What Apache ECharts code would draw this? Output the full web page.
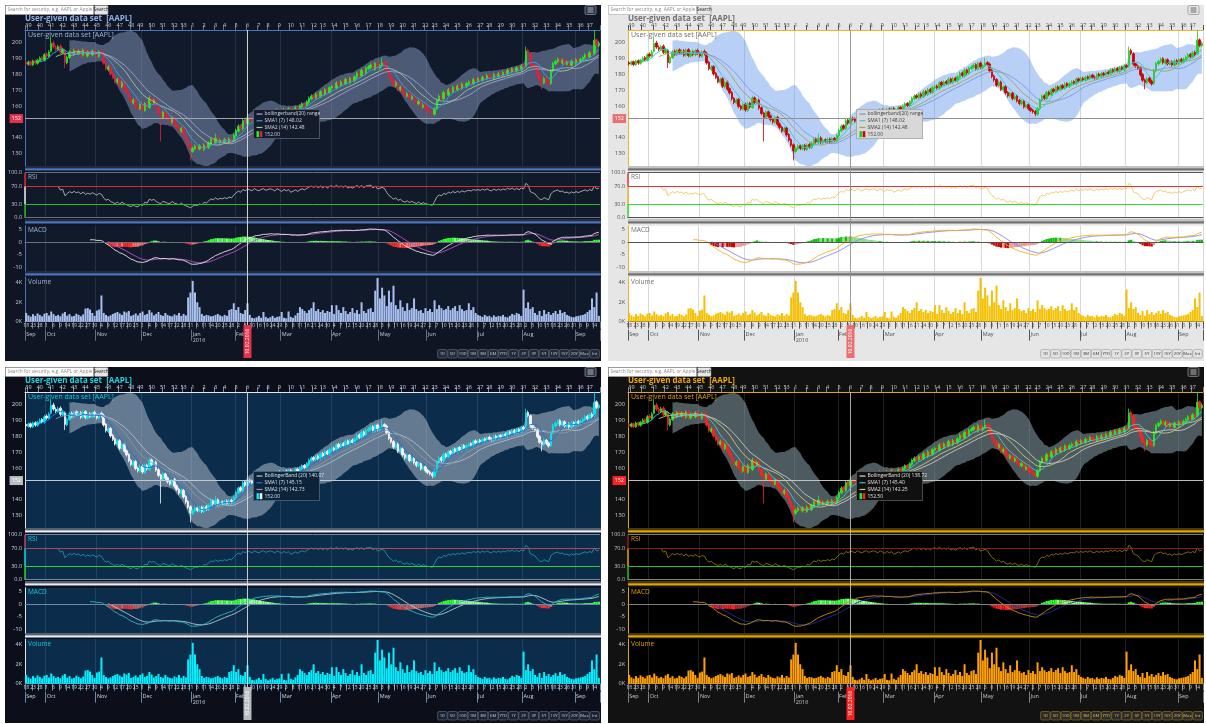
<!DOCTYPE html>
<html><head><meta charset="utf-8">
<script src="https://cdn.jsdelivr.net/npm/echarts@6/dist/echarts.min.js"></script>
<style>
html,body{margin:0;padding:0;background:#ffffff;width:1206px;height:724px;overflow:hidden}
.p{position:absolute}
</style></head><body>
<div id="c0" class="p" style="left:5px;top:5px;width:596px;height:356px"></div>
<div id="c1" class="p" style="left:608px;top:5px;width:596px;height:356px"></div>
<div id="c2" class="p" style="left:5px;top:367px;width:596px;height:356px"></div>
<div id="c3" class="p" style="left:608px;top:367px;width:596px;height:356px"></div>
<script>
// ---------------- data ----------------
const startDate = '2015-09-18', endDate = '2016-09-16';
const holidays = ['2015-11-26','2015-12-25','2016-01-01','2016-01-18','2016-02-15','2016-03-25','2016-05-30','2016-07-04','2016-09-05'];
const opens = [187.4,186.3,187.9,186.0,188.6,187.0,188.5,190.6,188.8,192.8,
191.2,194.5,199.8,197.0,195.5,197.8,193.5,195.2,187.2,190.5,
194.6,192.3,195.5,193.0,194.9,192.0,195.6,191.5,194.3,192.2,
195.1,193.5,191.3,194.5,193.2,187.6,182.9,184.9,180.6,178.4,
175.0,177.2,172.0,175.1,170.9,168.5,164.8,161.8,164.1,159.9,
157.9,161.2,157.1,161.8,159.0,165.1,161.9,163.8,158.9,155.5,
152.5,156.4,153.7,151.5,149.5,152.9,148.7,146.6,143.8,146.1,
141.9,138.7,135.5,131.2,132.9,134.9,132.8,135.1,132.3,135.6,
133.6,136.1,139.2,136.9,139.9,136.5,138.6,137.2,139.1,137.1,
139.5,137.8,141.0,144.2,147.5,145.5,150.9,148.8,152.3,151.7,
150.0,154.4,152.9,151.5,153.6,155.5,153.3,154.5,156.4,155.6,
153.9,157.7,156.5,154.6,158.1,156.2,158.5,155.4,157.0,159.2,
157.3,159.5,161.5,160.0,162.2,164.5,166.5,165.1,167.6,165.8,
169.2,167.2,170.5,168.5,171.3,172.6,171.1,174.9,172.9,175.4,
173.9,177.1,174.6,177.6,175.8,178.1,180.9,178.9,182.8,180.5,
183.6,184.3,186.1,183.1,187.2,183.9,185.2,187.4,186.5,182.6,
178.9,176.7,172.8,175.1,170.2,172.2,168.5,166.1,168.1,164.3,
166.2,163.5,161.2,163.1,159.1,160.9,158.5,157.4,156.6,154.7,
158.1,163.3,166.5,164.5,168.8,166.8,170.6,168.9,172.1,170.1,
172.9,171.0,174.2,172.2,173.9,175.4,174.0,177.1,175.6,177.5,
176.1,178.4,177.0,179.5,178.3,177.3,180.1,178.4,180.6,179.2,
181.5,180.1,182.9,181.5,183.7,181.9,184.4,182.7,185.6,185.0,
195.1,193.0,186.7,185.4,184.1,179.9,176.5,174.5,177.6,175.8,
174.2,182.1,186.5,187.9,189.9,187.0,189.2,186.2,188.0,185.6,
188.7,186.8,189.5,187.7,189.2,190.5,192.6,190.8,193.9,193.0,
201.8,198.0];
const closes = [186.5,187.8,186.2,188.4,187.1,188.9,190.2,189.1,192.3,191.5,
194.0,199.5,197.2,195.8,197.4,193.9,195.6,187.5,190.8,194.2,
192.6,195.1,193.4,194.6,192.1,195.3,191.8,193.9,192.5,194.8,
193.2,191.6,194.1,193.0,187.2,183.5,184.6,180.2,178.1,175.3,
176.9,172.4,174.8,170.6,168.2,164.5,162.1,163.8,159.6,158.2,
160.9,157.4,161.5,159.3,164.8,162.2,163.5,158.6,155.2,152.8,
156.1,153.4,151.2,149.8,152.6,148.4,146.3,144.1,145.8,141.6,
138.4,135.2,131.5,133.2,134.6,133.1,134.8,132.6,135.3,133.9,
136.4,138.9,137.2,139.6,136.8,138.3,137.5,138.8,137.4,139.2,
138.1,141.3,144.5,147.2,145.8,150.6,149.1,152.0,151.4,150.3,
154.1,152.6,151.8,153.9,155.2,153.6,154.8,156.1,155.3,154.2,
157.4,156.2,154.9,157.8,156.5,158.2,155.7,157.3,158.9,157.6,
159.8,161.2,160.3,162.5,164.8,166.2,165.4,167.3,166.1,168.9,
167.5,170.2,168.8,171.6,172.3,171.4,174.6,173.2,175.1,174.2,
176.8,174.9,177.3,176.1,178.4,180.6,179.2,182.5,180.8,183.9,
184.6,185.8,183.4,186.9,184.2,185.5,187.1,186.2,182.3,178.6,
176.4,173.1,174.8,170.5,171.9,168.2,166.4,167.8,164.6,165.9,
163.2,161.5,162.8,159.4,160.6,158.2,157.1,156.3,155.0,158.4,
163.6,166.2,164.8,168.5,167.1,170.3,169.2,171.8,170.4,172.6,
171.3,173.9,172.5,174.2,175.1,174.3,176.8,175.9,177.2,176.4,
178.1,177.3,179.2,178.0,177.6,179.8,178.7,180.3,179.5,181.2,
180.4,182.6,181.8,183.4,182.2,184.1,183.0,185.3,184.6,194.8,
193.2,186.4,185.1,183.8,179.6,176.2,174.8,177.3,175.5,173.9,
182.4,186.8,188.2,189.6,187.3,188.9,186.5,187.7,185.9,188.4,
187.1,189.2,188.0,189.5,190.8,192.3,191.1,193.6,192.4,201.5,
198.3,199.6];
const lows = [185.4,185.5,185.1,185.2,186.0,186.1,187.6,188.2,188.0,190.4,
190.6,193.8,196.1,194.6,194.7,192.8,192.6,184.0,186.3,189.7,
191.5,191.4,192.3,192.1,191.0,191.1,190.7,190.6,191.4,191.3,
192.1,190.5,190.4,191.9,186.1,182.4,181.8,179.1,177.0,174.2,
174.1,171.3,171.1,169.5,167.1,163.4,161.0,160.9,158.5,157.1,
157.0,156.3,156.2,158.2,158.1,161.1,161.0,157.5,154.1,137.5,
151.6,152.3,150.1,148.7,148.6,147.3,145.2,143.0,142.9,140.5,
137.3,134.1,125.5,130.3,132.0,132.0,131.9,131.5,131.4,132.8,
132.7,135.2,136.1,136.0,135.7,135.6,136.4,136.3,136.3,136.2,
137.0,136.9,140.1,143.3,144.7,144.6,148.0,147.9,150.3,149.2,
149.1,151.5,150.7,150.6,152.7,152.5,152.4,153.6,154.2,153.1,
153.0,155.1,153.8,153.7,155.4,155.3,154.6,154.5,156.1,156.5,
156.4,158.6,159.2,159.1,161.3,163.6,164.3,164.2,165.0,164.9,
166.4,166.3,167.7,167.6,170.4,170.3,170.2,172.1,172.0,173.1,
173.0,173.8,173.7,175.0,174.9,177.2,178.1,178.0,179.7,179.6,
182.7,183.4,182.3,182.2,183.1,183.0,184.3,185.1,181.2,177.5,
175.3,172.0,171.9,169.4,169.3,167.1,165.3,165.2,163.5,163.4,
162.1,160.4,160.3,158.3,158.2,157.1,156.0,155.2,153.5,153.8,
157.2,162.4,163.7,163.6,166.0,165.9,168.1,168.0,169.3,169.2,
170.2,170.1,171.4,171.3,173.0,173.2,173.1,174.8,174.7,175.3,
175.2,176.2,176.1,176.9,176.5,176.4,177.6,177.5,178.4,178.3,
179.3,179.2,180.7,180.6,181.1,181.0,181.9,181.8,183.5,184.1,
192.1,185.3,184.0,182.7,178.5,175.1,170.5,173.6,174.4,172.8,
173.3,181.2,185.6,187.0,186.2,186.1,185.4,185.3,184.8,184.7,
186.0,185.9,186.9,186.8,188.3,189.6,190.0,189.9,191.3,192.1,
197.2,197.1];
const highs = [188.3,188.6,188.7,189.3,189.4,189.8,191.3,191.5,193.4,193.9,
195.2,203.5,201.2,198.3,198.6,198.9,196.8,196.0,191.9,195.3,
195.6,196.2,196.4,195.8,195.9,196.4,196.5,195.0,195.2,195.9,
196.2,194.4,195.2,195.6,194.3,188.5,185.7,185.8,181.5,179.3,
178.0,178.1,175.9,176.0,171.8,169.4,165.7,164.9,165.0,160.8,
162.0,162.1,162.6,162.7,166.5,166.0,164.6,164.7,159.8,156.4,
157.2,157.3,154.6,152.4,153.7,153.8,149.6,147.5,146.9,147.0,
142.8,139.6,136.4,134.3,135.7,135.8,135.9,136.0,136.4,136.5,
137.5,140.0,140.1,142.5,140.8,139.4,139.5,139.9,140.0,140.3,
140.4,142.4,145.6,148.3,148.4,151.7,151.8,155.5,153.2,152.6,
155.2,155.3,153.8,155.0,156.3,156.4,155.9,157.2,157.3,156.5,
158.5,158.6,157.4,158.9,159.0,159.3,159.4,158.4,160.0,160.1,
160.9,162.3,162.4,163.6,165.9,167.3,167.4,168.4,168.5,170.0,
170.1,171.3,171.4,172.7,173.4,173.5,175.7,175.8,176.2,176.3,
177.9,178.0,178.4,178.5,179.5,181.7,181.8,183.6,183.7,185.0,
185.7,186.9,187.0,188.0,188.1,186.6,190.5,188.3,187.4,183.5,
179.8,177.6,175.9,176.0,173.0,173.1,169.4,168.9,169.0,167.0,
167.1,164.4,163.9,164.0,161.7,161.8,159.4,158.3,157.5,159.5,
164.7,167.3,167.4,169.6,169.7,171.4,171.5,172.9,173.0,173.7,
173.8,175.0,175.1,175.3,176.2,176.3,177.9,178.0,178.3,178.4,
179.2,179.3,180.3,180.4,179.2,180.9,181.0,181.4,181.5,182.3,
182.4,183.7,183.8,184.5,184.6,185.2,185.3,186.4,186.5,197.5,
196.2,193.9,187.6,186.3,185.0,180.8,177.4,178.4,178.5,176.7,
183.5,187.9,189.3,190.7,190.8,190.0,190.1,188.8,188.9,189.5,
189.6,190.3,190.4,190.6,191.9,193.4,193.5,194.7,195.0,208.0,
202.7,200.7];
const volumes = [900,650,520,780,600,850,700,550,820,900,640,
1050,780,600,700,560,850,1000,620,780,540,
600,820,700,560,750,1350,1400,1250,900,600,
1150,1250,2700,900,700,560,650,800,900,1000,
850,700,1050,950,1100,600,700,850,650,900,
1050,700,800,1200,950,650,800,1000,700,600,
900,700,600,550,750,650,900,600,800,650,
2500,3000,4200,3000,2000,1500,800,600,700,650,
550,600,700,800,650,550,700,600,1200,1300,
1900,1200,1500,900,800,1200,1900,700,400,350,
450,600,400,1000,500,350,450,600,400,500,
550,1000,400,350,1050,500,400,650,900,1500,
1300,1100,900,1200,1400,2000,1100,1300,1000,1200,
900,1100,1000,1700,800,1700,1200,900,1500,1100,
800,1000,1400,900,1200,800,2000,1100,900,1300,
1400,1000,3200,4500,2400,3500,2700,1600,3200,2000,
3700,1700,1300,2200,1500,1100,1900,1200,1400,2400,
1300,1100,1200,900,1400,1100,1300,1000,2200,1300,
1700,1400,1200,1300,1600,1200,1400,1600,1100,1700,
1300,1100,1200,1900,1200,1500,900,700,600,500,
700,550,600,450,650,500,600,550,700,500,
450,600,800,700,900,800,600,3300,1400,2000,
1300,1500,900,700,1100,600,1200,800,1000,700,
900,1100,800,1200,900,1000,700,600,500,450,
550,600,650,700,800,1000,1200,2400,1500,3000,600];
const crossIndex = 97;          // crosshair candle
const crossPrice = 152;        // crosshair price
const crossDateText = '10.02.2016';
const rsiLabels = [0, 30, 70, 100];
const macdLabels = [5, 0, -5, -10];
const volLabels = [0, 2000, 4000];
const monthNames = ['Jan','Feb','Mar','Apr','May','Jun','Jul','Aug','Sep','Oct','Nov','Dec'];
const buttonLabels = ['1D','5D','10D','1M','3M','6M','YTD','1Y','2Y','3Y','5Y','10Y','15Y','20Y','Max','Int'];
const titleText = 'User-given data set  [AAPL]';
const legendText = 'User-given data set [AAPL]';
const tipTexts = [
  ['bollingerband(20) range','SMA1 (7) 148.02','SMA2 (14) 142.48','152.00'],
  ['bollingerband(20) range','SMA1 (7) 148.02','SMA2 (14) 142.48','152.00'],
  ['BollingerBand (20) 140.07','SMA1 (7) 145.15','SMA2 (14) 142.73','152.00'],
  ['BollingerBand (20) 138.72','SMA1 (7) 145.40','SMA2 (14) 142.25','152.50']
];

// ---------------- calendar ----------------
const DAY = 86400000;
const dates = [];
for (let t = Date.parse(startDate + 'T00:00:00Z'); t <= Date.parse(endDate + 'T00:00:00Z'); t += DAY) {
  const d = new Date(t), wd = d.getUTCDay(), s = d.toISOString().slice(0, 10);
  if (wd !== 0 && wd !== 6 && holidays.indexOf(s) < 0) dates.push(s);
}
function isoWeek(s) {
  const d = new Date(s + 'T00:00:00Z');
  const day = (d.getUTCDay() + 6) % 7;
  d.setUTCDate(d.getUTCDate() - day + 3);
  const y = d.getUTCFullYear();
  const jan4 = new Date(Date.UTC(y, 0, 4));
  const jday = (jan4.getUTCDay() + 6) % 7;
  jan4.setUTCDate(jan4.getUTCDate() - jday + 3);
  return 1 + Math.round((d - jan4) / (7 * DAY));
}
const weekStart = dates.map((s, i) => i === 0 || new Date(s).getUTCDay() <= new Date(dates[i - 1]).getUTCDay());
const monthStart = dates.map((s, i) => i === 0 || s.slice(5, 7) !== dates[i - 1].slice(5, 7));

// ---------------- indicators ----------------
function sma(a, n) { const r = []; let s = 0; for (let i = 0; i < a.length; i++) { s += a[i]; if (i >= n) s -= a[i - n]; r.push(i >= n - 1 ? s / n : null); } return r; }
function ema(a, n) { const k = 2 / (n + 1); const r = []; let e = a[0]; for (let i = 0; i < a.length; i++) { e = i === 0 ? a[0] : a[i] * k + e * (1 - k); r.push(e); } return r; }
function rsiCalc(a, n) {
  const r = a.map(() => null); let g = 0, l = 0;
  for (let i = 1; i <= n; i++) { const d = a[i] - a[i - 1]; if (d > 0) g += d; else l -= d; }
  g /= n; l /= n; r[n] = 100 - 100 / (1 + g / l);
  for (let i = n + 1; i < a.length; i++) { const d = a[i] - a[i - 1]; g = (g * (n - 1) + Math.max(d, 0)) / n; l = (l * (n - 1) + Math.max(-d, 0)) / n; r[i] = l === 0 ? 100 : 100 - 100 / (1 + g / l); }
  return r;
}
const bbMid = sma(closes, 20);
const bbSd = closes.map((v, i) => { if (i < 19) return null; let q = 0; for (let j = i - 19; j <= i; j++) q += (closes[j] - bbMid[i]) ** 2; return Math.sqrt(q / 20); });
const bbK = 2.5;
const bbLow = bbMid.map((m, i) => m == null ? null : m - bbK * bbSd[i]);
const bbRange = bbMid.map((m, i) => m == null ? null : 2 * bbK * bbSd[i]);
const sma7 = sma(closes, 7), sma14 = sma(closes, 14);
const rsi = rsiCalc(closes, 14);
const e12 = ema(closes, 12), e26 = ema(closes, 26);
const macdRaw = e12.map((v, i) => v - e26[i]);
const sigRaw = ema(macdRaw, 9);
const histRaw = macdRaw.map((v, i) => v - sigRaw[i]);
const macdLine = macdRaw.map((v, i) => i < 28 ? null : v);
const sigLine = sigRaw.map((v, i) => i < 36 ? null : v);
const ohlc = opens.map((o, i) => [o, closes[i], lows[i], highs[i]]);

// ---------------- themes ----------------
const FONT = '"Open Sans", "DejaVu Sans", sans-serif';
const themes = [
 {bg:'#0f1522',plot:'#111a2a',title:'#8eb0e6',title2:'#9db4da',text:'#c0c8d8',axis:'#4a74c0',sep:'#4a74c0',sep2:'#3a4456',
  up:'#22ee22',down:'#e0203c',band:'rgba(150,168,210,0.45)',mid:'#b0a8d8',sma1:'#30a0e0',sma2:'#a0c8a0',
  rsi:'#c8c8c8',macd:'#e8e8e8',signal:'#c050d0',vol:'#a8c0f0',hist:['#33ff33','#88ff88','#ff2a2a','#ff7070'],
  cross:'#e8e8e8',hline:'#a0a4ac',markBg:'#e83048',markText:'#ffffff',grid:'rgba(160,175,200,0.16)',
  tipBg:'#141c2c',tipBorder:'#5a6478',tipText:'#d0d8e8',rsiHi:'#e02828',rsiMid:'#f0f0f0',rsiLo:'#20c020',zero:'#6a707a',
  btnBg:'#222a3a',btnBorder:'#6a7488',btnText:'#c8d0dc',menuBg:'#2a3242',menuBorder:'#9098a8',menuLine:'#d0d8e0'},
 {bg:'#e6e6e6',plot:'#ffffff',title:'#707070',title2:'#707070',text:'#505050',axis:'#f0b030',sep:'#707070',sep2:'#a0a0a0',
  up:'#22cc22',down:'#cc0000',band:'rgba(100,150,235,0.45)',mid:'#7090e0',sma1:'#40c8d8',sma2:'#a0a060',
  rsi:'#f0c040',macd:'#f0b020',signal:'#8888e0',vol:'#f5c000',hist:['#11bb11','#88dd88','#cc0000','#e89898'],
  cross:'#909090',hline:'#909090',markBg:'#e87070',markText:'#ffffff',grid:'#d8d8d8',
  tipBg:'#d8d8d8',tipBorder:'#a0a0a0',tipText:'#404040',rsiHi:'#ee3030',rsiMid:'#f0b030',rsiLo:'#30dd30',zero:'#555555',
  btnBg:'#e4e4e4',btnBorder:'#999999',btnText:'#333333',menuBg:'#e8e8e8',menuBorder:'#888888',menuLine:'#444444'},
 {bg:'#0c0e1a',plot:'#0b2c4a',title:'#18d8e0',title2:'#18c8d8',text:'#c8d8e8',axis:'#e0e8f0',sep:'#e8eef5',sep2:'#a0b0c0',
  up:'#00e8f8',down:'#f8f8f8',band:'rgba(190,200,215,0.5)',mid:'#b8c8d8',sma1:'#2070e0',sma2:'#8898a8',
  rsi:'#20a0b8',macd:'#30b8c8',signal:'#c0c8d0',vol:'#00f0ff',hist:['#30ff30','#90ff90','#e03838','#c06060'],
  cross:'#e0e0e0',hline:'#c0c8d0',markBg:'#b8bcc0',markText:'#ffffff',grid:'rgba(100,160,200,0.22)',
  tipBg:'#0d2438',tipBorder:'#4a6a88',tipText:'#d0e0f0',rsiHi:'#b04858',rsiMid:'#00e0f0',rsiLo:'#30d030',zero:'#6a8aa8',
  btnBg:'#1a2232',btnBorder:'#6a7488',btnText:'#c8d0dc',menuBg:'#2a3242',menuBorder:'#9098a8',menuLine:'#d0d8e0'},
 {bg:'#121212',plot:'#000000',title:'#f0a800',title2:'#e0a000',text:'#c8c8c8',axis:'#e0a800',sep:'#e0a800',sep2:'#806000',
  up:'#22ee22',down:'#ff2020',band:'rgba(140,165,175,0.55)',mid:'#d8d8d8',sma1:'#40c0d0',sma2:'#d0c880',
  rsi:'#a08010',macd:'#c89010',signal:'#2030a0',vol:'#ffa000',hist:['#30ff30','#90ff90','#ff2020','#b03030'],
  cross:'#c0c0c0',hline:'#c0c0c0',markBg:'#ff2020',markText:'#ffffff',grid:'rgba(255,255,255,0.12)',
  tipBg:'#101010',tipBorder:'#606060',tipText:'#e0e0e0',rsiHi:'#8c1a1a',rsiMid:'#e0a000',rsiLo:'#20c020',zero:'#808080',
  btnBg:'#2a2a2a',btnBorder:'#a08020',btnText:'#e0c060',menuBg:'#2a2a2a',menuBorder:'#909090',menuLine:'#d0d0d0'}
];

// ---------------- option ----------------
function makeOption(th) {
  const GL = 20, GR = 1;
  const grids = [
    {left:GL,right:GR,top:25,height:136},
    {left:GL,right:GR,top:167.7,height:45},
    {left:GL,right:GR,top:220.7,height:45.3},
    {left:GL,right:GR,top:272,height:44.7}
  ].map(g => Object.assign(g, {show:true, backgroundColor:th.plot, borderWidth:0}));
  const lbl = {color:th.text, fontSize:6, fontFamily:FONT};
  const xa = (gi, extra) => Object.assign({
    type:'category', data:dates, gridIndex:gi, boundaryGap:true,
    axisLine:{show:false}, axisTick:{show:false}, axisLabel:{show:false},
    splitLine:{show:true, interval:(i) => monthStart[i], lineStyle:{color:th.grid, width:1}}
  }, extra || {});
  const ya = (gi, extra) => Object.assign({
    type:'value', gridIndex:gi, axisTick:{show:false}, splitLine:{show:false},
    axisLine:{show:true, lineStyle:{color:th.axis, width:1}}
  }, extra);
  const histData = histRaw.map((v, i) => i < 36 ? null : {
    value:v, itemStyle:{color: v >= 0 ? (v >= histRaw[i-1] ? th.hist[0] : th.hist[1]) : (v <= histRaw[i-1] ? th.hist[2] : th.hist[3])}
  });
  const ln = (name, data, color, w, xi, yi, z) => ({name, type:'line', data, xAxisIndex:xi, yAxisIndex:yi, symbol:'none', showSymbol:false,
    lineStyle:{color, width:w}, z:z || 4, silent:true, animation:false});
  return {
    animation:false,
    backgroundColor:th.bg,
    textStyle:{fontFamily:FONT},
    grid:grids,
    xAxis:[
      xa(0),
      xa(0, {position:'top', splitLine:{show:false},
        axisLine:{show:true, lineStyle:{color:th.axis, width:1}},
        axisTick:{show:true, interval:(i) => weekStart[i], length:5, lineStyle:{color:th.zero}},
        axisLabel:{show:true, interval:(i) => weekStart[i], formatter:(v, i) => String(isoWeek(v)), margin:1.5, ...lbl, fontSize:5.5}}),
      xa(1, {axisLine:{show:true, lineStyle:{color:th.zero}}}),
      xa(2, {axisLine:{show:true, lineStyle:{color:th.zero}}}),
      xa(3, {axisLine:{show:true, lineStyle:{color:th.zero}},
        axisTick:{show:true, interval:(i) => i % 3 === 0, length:7, lineStyle:{color:th.zero}},
        axisLabel:{show:true, interval:(i) => i % 3 === 0, formatter:(v) => String(+v.slice(8, 10)), margin:1.5, ...lbl, fontSize:5}}),
      xa(3, {position:'bottom', offset:8, splitLine:{show:false},
        axisTick:{show:true, interval:(i) => monthStart[i], length:11, lineStyle:{color:th.zero}},
        axisLabel:{show:true, interval:(i) => monthStart[i], align:'left', margin:1.5, ...lbl, fontSize:5.5,
          formatter:(v) => { const m = +v.slice(5, 7); return monthNames[m - 1] + (m === 1 ? '\n' + v.slice(0, 4) : ''); }}})
    ],
    yAxis:[
      ya(0, {min:122, max:208, interval:2, axisLabel:{...lbl, margin:3, formatter:(v) => v % 10 === 0 ? String(v) : ''}}),
      ya(1, {min:0, max:100, interval:10, axisLine:{show:false}, axisLabel:{...lbl, fontSize:5.5, margin:3, formatter:(v) => rsiLabels.indexOf(v) >= 0 ? v.toFixed(1) : ''}}),
      ya(2, {min:-11.5, max:6.5, interval:0.5, axisLabel:{...lbl, margin:3, formatter:(v) => macdLabels.indexOf(v) >= 0 ? String(v) : ''}}),
      ya(3, {min:0, max:4600, interval:200, axisLabel:{...lbl, fontSize:5.5, margin:3, formatter:(v) => volLabels.indexOf(v) >= 0 ? (v / 1000) + 'K' : ''}})
    ],
    series:[
      {name:'bbLow', type:'line', data:bbLow, stack:'bb', xAxisIndex:0, yAxisIndex:0, symbol:'none', lineStyle:{width:0}, z:1, silent:true},
      {name:'bbRange', type:'line', data:bbRange, stack:'bb', xAxisIndex:0, yAxisIndex:0, symbol:'none', lineStyle:{width:0}, areaStyle:{color:th.band, opacity:1}, z:1, silent:true},
      {name:'ohlc', type:'candlestick', data:ohlc, xAxisIndex:0, yAxisIndex:0, barWidth:2, z:3, silent:true,
        itemStyle:{color:th.up, color0:th.down, borderColor:th.up, borderColor0:th.down, borderWidth:0.8},
        markLine:{symbol:['none','none'], silent:true, animation:false, data:[{yAxis:crossPrice}],
          lineStyle:{color:th.hline, width:1, type:'solid'},
          label:{position:'start', formatter:String(crossPrice), color:th.markText, backgroundColor:th.markBg, fontSize:5.5, padding:[2,2,1,2], distance:2}}},
      ln('mid', bbMid, th.mid, 0.8, 0, 0),
      ln('sma14', sma14, th.sma2, 0.9, 0, 0),
      ln('sma7', sma7, th.sma1, 1, 0, 0),
      Object.assign(ln('rsi', rsi, th.rsi, 0.8, 2, 1), {markLine:{symbol:['none','none'], silent:true, animation:false, label:{show:false},
        data:[{yAxis:70, lineStyle:{color:th.rsiHi, width:1.2, type:'solid'}}, {yAxis:30, lineStyle:{color:th.rsiLo, width:1, type:'solid'}}, {yAxis:100, lineStyle:{color:th.zero, width:1, type:'solid'}}]}}),
      {name:'hist', type:'bar', data:histData, xAxisIndex:3, yAxisIndex:2, barCategoryGap:'0%', z:2, silent:true,
        markLine:{symbol:['none','none'], silent:true, animation:false, label:{show:false}, data:[{yAxis:0}], lineStyle:{color:th.zero, width:1, type:'solid'}}},
      ln('signal', sigLine, th.signal, 0.9, 3, 2),
      ln('macd', macdLine, th.macd, 0.9, 3, 2),
      {name:'volume', type:'bar', data:volumes, xAxisIndex:4, yAxisIndex:3, barCategoryGap:'12%', itemStyle:{color:th.vol}, silent:true}
    ]
  };
}

function decorate(chart, th, ti) {
  const W = chart.getWidth();
  const GL = 20;
  const xc = chart.convertToPixel({xAxisIndex:0}, dates[crossIndex]);
  const yr = (v) => chart.convertToPixel({yAxisIndex:1}, v);
  const yp = chart.convertToPixel({yAxisIndex:0}, crossPrice);
  const els = [];
  const txt = (x, y, text, fill, size, extra) => ({type:'text', x, y, silent:true,
    style:Object.assign({text, fill, fontSize:size, fontFamily:FONT, verticalAlign:'middle'}, extra || {})});
  // search box
  els.push({type:'rect', shape:{x:0.5, y:0.5, width:88, height:9}, style:{fill:'#ffffff', stroke:'#a8a8a8', lineWidth:0.6}});
  els.push(txt(2.5, 5, 'Search for security, e.g. AAPL or Apple', '#8a8a8a', 4.8));
  els.push({type:'rect', shape:{x:89.5, y:0.5, width:13.5, height:9, r:1}, style:{fill:'#e6e6e6', stroke:'#8a8a8a', lineWidth:0.6}});
  els.push(txt(96.2, 5, 'Search', '#222222', 4.8, {align:'center'}));
  // menu icon
  els.push({type:'rect', shape:{x:W - 16, y:0.5, width:11, height:9, r:1.5}, style:{fill:th.menuBg, stroke:th.menuBorder, lineWidth:0.7}});
  [3, 5, 7].forEach(y => els.push({type:'line', shape:{x1:W - 13.5, y1:y, x2:W - 7.5, y2:y}, style:{stroke:th.menuLine, lineWidth:0.8}}));
  // titles
  els.push(txt(GL, 14, titleText, th.title, 8, {fontWeight:'bold'}));
  els.push(txt(GL + 3, 29.5, legendText, th.title2, 7));
  els.push(txt(GL + 3, 172, 'RSI', th.title2, 6.5));
  els.push(txt(GL + 3, 225.5, 'MACD', th.title2, 6.5));
  els.push(txt(GL + 3, 277, 'Volume', th.title2, 6.5));
  // separators
  [163.2, 216.2, 268.2].forEach(y => {
    els.push({type:'rect', shape:{x:GL, y:y, width:W - GL, height:2.4}, style:{fill:th.sep}});
    els.push({type:'rect', shape:{x:GL, y:y - 1.6, width:W - GL, height:0.8}, style:{fill:th.sep2}});
  });
  // RSI coloured axis
  els.push({type:'line', shape:{x1:GL, y1:yr(100), x2:GL, y2:yr(70)}, style:{stroke:th.rsiHi, lineWidth:1.5}});
  els.push({type:'line', shape:{x1:GL, y1:yr(70), x2:GL, y2:yr(30)}, style:{stroke:th.rsiMid, lineWidth:1.5}});
  els.push({type:'line', shape:{x1:GL, y1:yr(30), x2:GL, y2:yr(0)}, style:{stroke:th.rsiLo, lineWidth:1.5}});
  // crosshair
  els.push({type:'line', z:50, shape:{x1:xc, y1:25, x2:xc, y2:320}, style:{stroke:th.cross, lineWidth:0.9}});
  els.push({type:'rect', z:51, shape:{x:xc - 4, y:320, width:8, height:33}, style:{fill:th.markBg}});
  els.push({type:'text', z:52, x:xc, y:336.5, rotation:Math.PI / 2, silent:true,
    style:{text:crossDateText, fill:th.markText, fontSize:5, fontFamily:FONT, align:'center', verticalAlign:'middle'}});
  // tooltip box
  const bx = xc + 6, by = yp - 9;
  els.push({type:'rect', z:60, shape:{x:bx, y:by, width:66, height:29}, style:{fill:th.tipBg, stroke:th.tipBorder, lineWidth:0.8}});
  const rows = tipTexts[ti];
  const rowCol = [th.mid, th.sma1, th.sma2];
  for (let r = 0; r < 4; r++) {
    const ry = by + 4.5 + r * 6.7;
    if (r < 3) els.push({type:'line', z:61, shape:{x1:bx + 3, y1:ry, x2:bx + 9, y2:ry}, style:{stroke:rowCol[r], lineWidth:1.2}});
    else {
      els.push({type:'rect', z:61, shape:{x:bx + 3, y:ry - 3, width:2.6, height:6}, style:{fill:th.up}});
      els.push({type:'rect', z:61, shape:{x:bx + 6.2, y:ry - 3, width:2.6, height:6}, style:{fill:th.down}});
    }
    els.push(Object.assign(txt(bx + 11, ry, rows[r], th.tipText, 5), {z:61}));
  }
  // range buttons
  const bw = 9.6, gap = 0.55, bx0 = W - buttonLabels.length * (bw + gap) - 1;
  buttonLabels.forEach((b, i) => {
    const x = bx0 + i * (bw + gap);
    els.push({type:'rect', shape:{x, y:344.5, width:bw, height:8.5, r:1.5}, style:{fill:th.btnBg, stroke:th.btnBorder, lineWidth:0.6}});
    els.push(txt(x + bw / 2, 348.8, b, th.btnText, 4.2, {align:'center'}));
  });
  chart.setOption({graphic:els});
}

['c0','c1','c2','c3'].forEach((id, ti) => {
  const chart = echarts.init(document.getElementById(id), null, {renderer:'canvas'});
  chart.setOption(makeOption(themes[ti]));
  decorate(chart, themes[ti], ti);
});
</script>
</body></html>
